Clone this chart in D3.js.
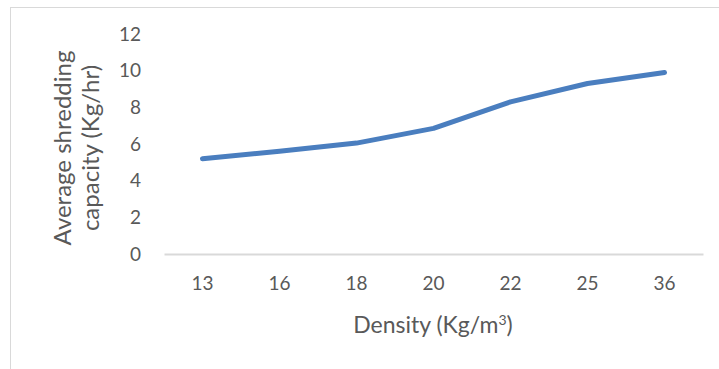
<!DOCTYPE html>
<html>
<head>
<meta charset="utf-8">
<script src="https://cdn.jsdelivr.net/npm/d3@7"></script>
<style>
  html, body { margin: 0; padding: 0; background: #fff; }
  svg { display: block; }
  text { font-family: Lato, "Liberation Sans", sans-serif; fill: #595959; }
</style>
</head>
<body>
<svg id="chart" width="719" height="369"></svg>
<script>
// --- datos ---
const densities = ["13", "16", "18", "20", "22", "25", "36"];
const capacity = [5.2, 5.6, 6.05, 6.85, 8.3, 9.3, 9.9];
const yTicks = [0, 2, 4, 6, 8, 10, 12];

const width = 719, height = 369;
const margin = {left: 164, right: 16, top: 34, bottom: 115};

const svg = d3.select("#chart");

// marco del gráfico
svg.append("rect")
    .attr("x", 10.5).attr("y", 7.5)
    .attr("width", 720).attr("height", 370)
    .style("fill", "none")
    .style("stroke", "#d9d9d9");

const x = d3.scaleBand()
    .domain(densities)
    .range([margin.left, width - margin.right]);

const y = d3.scaleLinear()
    .domain([0, 12])
    .range([height - margin.bottom, margin.top]);

// eje y (solo etiquetas)
const yAxis = svg.append("g")
    .attr("transform", `translate(${margin.left - 23},0)`)
    .call(d3.axisLeft(y).tickValues(yTicks).tickSize(0).tickPadding(0));
yAxis.select(".domain").remove();
yAxis.selectAll("text")
    .style("font-size", "19px")
    .style("fill", "#595959")
    .style("font-family", "Lato, sans-serif");

// eje x
const xAxis = svg.append("g")
    .attr("transform", `translate(0,${y(0)})`)
    .call(d3.axisBottom(x).tickSize(0).tickPadding(23));
xAxis.select(".domain")
    .style("stroke", "#d9d9d9")
    .style("stroke-width", 2);
xAxis.selectAll("text")
    .style("font-size", "19px")
    .style("fill", "#595959")
    .style("font-family", "Lato, sans-serif");

// linea
const line = d3.line()
    .x((d, i) => x(densities[i]) + x.bandwidth() / 2)
    .y(d => y(d));

svg.append("path")
    .datum(capacity)
    .attr("d", line)
    .style("fill", "none")
    .style("stroke", "#4a7ebf")
    .style("stroke-width", 5)
    .style("stroke-linecap", "round")
    .style("stroke-linejoin", "round");

// titulo eje x
const xt = svg.append("text")
    .attr("x", 433).attr("y", 333)
    .attr("text-anchor", "middle")
    .style("font-size", "23px");
xt.append("tspan").text("Density (Kg/m");
xt.append("tspan").text("3").attr("dy", -8).style("font-size", "14px");
xt.append("tspan").text(")").attr("dy", 8);

// titulo eje y
const yt = svg.append("text")
    .attr("transform", "translate(0,148) rotate(-90)")
    .attr("text-anchor", "middle")
    .style("font-size", "24px");
yt.append("tspan").attr("x", 0).attr("y", 71).text("Average shredding");
yt.append("tspan").attr("x", 0).attr("y", 99).text("capacity (Kg/hr)");
</script>
</body>
</html>
